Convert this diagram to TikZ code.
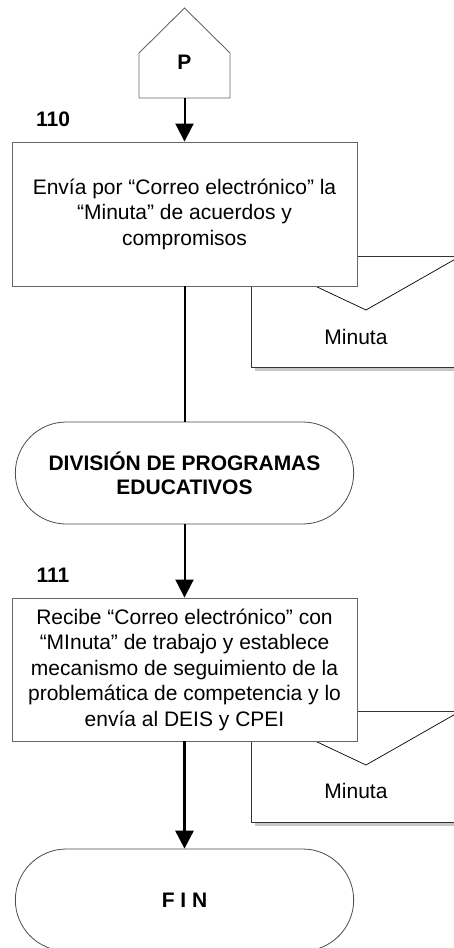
\documentclass[tikz,border=0pt]{standalone}
\usepackage{fontspec}
\setmainfont{Liberation Sans}
\usetikzlibrary{arrows.meta,shapes.misc,shadows}
\begin{document}
\begin{tikzpicture}[x=1pt,y=-1pt,
	every node/.style={font=\fontsize{21}{25.5}\selectfont},
	proc/.style={draw=black!60, line width=0.9pt, fill=white, minimum width=345, align=center},
	term/.style={rounded rectangle, draw=black!70, line width=0.8pt, fill=white, minimum width=345, minimum height=102, align=center, font=\fontsize{21}{24}\selectfont\bfseries},
	docu/.style={draw=black!80, line width=0.7pt, fill=white, minimum width=210, minimum height=111, drop shadow={shadow xshift=4pt, shadow yshift=-4pt, fill=black!22, opacity=1}},
	num/.style={font=\fontsize{21}{25}\selectfont\bfseries},
	flow/.style={-{Triangle[length=18pt,width=18pt]}, line width=2pt}]
	\useasboundingbox (0,0) rectangle (454,948);
	\clip (0,0) rectangle (454,948);
	% off-page connector
	\draw[draw=black!60, line width=0.9pt] (139,98) -- (139,53) -- (184.5,8) -- (230,53) -- (230,98) -- cycle;
	\node[num] (P) at (184.5,62) {P};
	\coordinate (Pbot) at (184.5,98);
	% documents
	\node[docu] (doc1) at (356,311.5) {};
	\draw[line width=0.7pt] (doc1.north west) -- (366,310) -- (doc1.north east);
	\node (min1) at (356,337) {Minuta};
	\node[docu] (doc2) at (356,766.5) {};
	\draw[line width=0.7pt] (doc2.north west) -- (366,765) -- (doc2.north east);
	\node (min2) at (356,791) {Minuta};
	% steps
	\node[proc, minimum height=144] (b110) at (184.5,214) {Envía por “Correo electrónico” la\\“Minuta” de acuerdos y\\compromisos};
	\node[num] (n110) at (53,119) {110};
	\node[term] (dpe) at (184.5,473) {DIVISIÓN DE PROGRAMAS\\EDUCATIVOS};
	\node[proc, minimum height=143] (b111) at (184.5,669.5) {Recibe “Correo electrónico” con\\“MInuta” de trabajo y establece\\mecanismo de seguimiento de la\\problemática de competencia y lo\\envía al DEIS y CPEI};
	\node[num] (n111) at (53,575) {111};
	\node[term] (fin) at (184.5,900) {F I N};
	% flow
	\draw[flow] (Pbot) -- (b110.north);
	\draw[line width=2pt] (b110.south) -- (dpe.north);
	\draw[flow] (dpe.south) -- (b111.north);
	\draw[flow, line width=3pt] (b111.south) -- (fin.north);
\end{tikzpicture}
\end{document}
